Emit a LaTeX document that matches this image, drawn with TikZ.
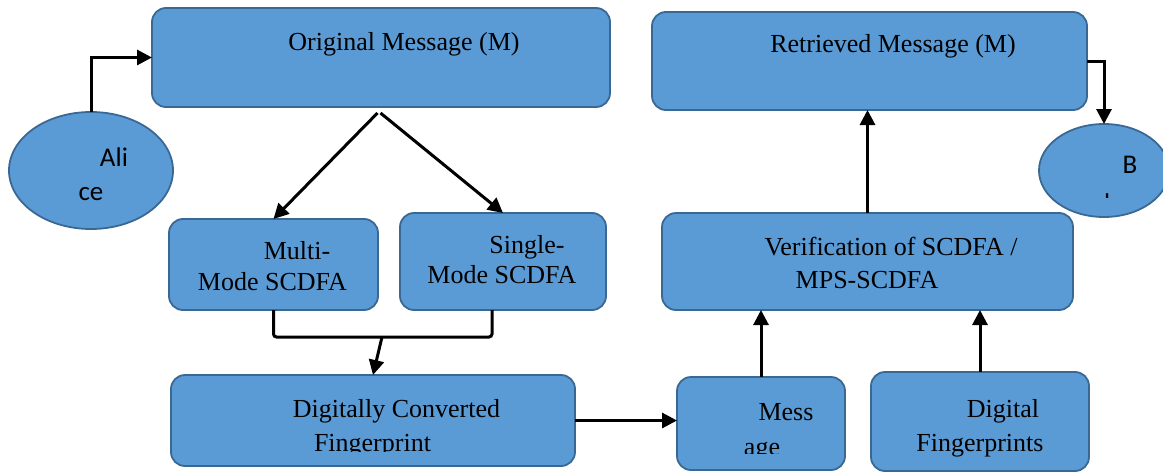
\documentclass[tikz,border=0pt]{standalone}
\usepackage{fontspec}
\setmainfont{Liberation Serif}
\newfontfamily\calibfont{Carlito}
\usetikzlibrary{arrows.meta,shapes.geometric}
\definecolor{boxblue}{HTML}{5B9BD5}
\definecolor{boxedge}{HTML}{3A6894}

\begin{document}
\begin{tikzpicture}[x=1pt,y=-1pt,
		blk/.style={draw=boxedge,fill=boxblue,line width=1.8pt,rounded corners=14pt,inner sep=0pt,outer sep=0pt},
		oval/.style={ellipse,draw=boxedge,fill=boxblue,line width=1.8pt,inner sep=0pt,outer sep=0pt},
		txt/.style={anchor=base,inner sep=0pt,font=\fontsize{26}{30}\selectfont},
		stxt/.style={anchor=base,inner sep=0pt,font=\calibfont\fontsize{27}{30}\selectfont},
		arr/.style={black,line width=3pt,-{Triangle[length=15pt,width=15pt]}},
		lnk/.style={black,line width=3pt,rounded corners=3pt}]
		\useasboundingbox (0,0) rectangle (1163,474);
		%
		\node[oval,minimum width=164pt,minimum height=117pt] (alice) at (91,170.5) {};
		\node[stxt] (alice-a) at (114,166) {Ali};
		\node[stxt] (alice-b) at (91,200) {ce};
		%
		\node[oval,minimum width=130pt,minimum height=93pt] (bob) at (1104,170.5) {};
		\node[stxt] (bob-a) at (1130,173) {B};
		\begin{scope}
			\clip (1040,150) rectangle (1163,197);
			\node[stxt] (bob-b) at (1104,212) {ob};
		\end{scope}
		%
		\node[blk,minimum width=458pt,minimum height=99pt] (orig) at (381,57.5) {};
		\node[txt] (orig-t) at (404,50) {Original Message (M)};
		\node[blk,minimum width=435pt,minimum height=98pt] (retr) at (869.5,61) {};
		\node[txt] (retr-t) at (893,52) {Retrieved Message (M)};
		%
		\node[blk,minimum width=209pt,minimum height=91pt] (multi) at (273.5,264.5) {};
		\node[txt] (multi-a) at (297,259) {Multi-};
		\node[txt] (multi-b) at (272.5,290) {Mode SCDFA};
		\node[blk,minimum width=206pt,minimum height=97pt] (single) at (503,261.5) {};
		\node[txt] (single-a) at (527,253) {Single-};
		\node[txt] (single-b) at (502,283) {Mode SCDFA};
		\node[blk,minimum width=411pt,minimum height=97pt] (verif) at (867.5,261.5) {};
		\node[txt] (verif-a) at (891,255) {Verification of SCDFA /};
		\node[txt] (verif-b) at (867,288) {MPS-SCDFA};
		%
		\node[blk,minimum width=404pt,minimum height=91pt] (dig) at (373,420.5) {};
		\node[txt] (dig-a) at (396.5,417) {Digitally Converted};
		\begin{scope}
			\clip (180,425) rectangle (560,451);
			\node[txt] (dig-b) at (372.5,451) {Fingerprint};
		\end{scope}
		\node[blk,minimum width=168pt,minimum height=93pt] (msg) at (761,423.5) {};
		\node[txt] (msg-a) at (786,420) {Mess};
		\begin{scope}
			\clip (690,430) rectangle (830,453);
			\node[txt] (msg-b) at (762,455) {age};
		\end{scope}
		\node[blk,minimum width=218pt,minimum height=99pt] (dfp) at (980,421.5) {};
		\node[txt] (dfp-a) at (1003,417) {Digital};
		\node[txt] (dfp-b) at (980,451) {Fingerprints};
		%
		\coordinate (fork) at (379,113);
		\coordinate (join) at (382,337);
		\draw[arr] (alice.north) |- (orig.west);
		\draw[arr] ([xshift=-1.5pt]fork) -- (multi.north);
		\draw[arr] ([xshift=1.5pt]fork) -- (single.north);
		\draw[lnk] (multi.south) |- (join) -| ([xshift=-11pt]single.south);
		\draw[arr] (join) -- (dig.north);
		\draw[arr] (dig.east) -- (dig.east -| msg.west);
		\draw[arr] (msg.north) -- (msg.north |- verif.south);
		\draw[arr] (dfp.north) -- (dfp.north |- verif.south);
		\draw[arr] (verif.north) -- (verif.north |- retr.south);
		\draw[arr] (retr.east) -| (bob.north);
	\end{tikzpicture}
\end{document}
